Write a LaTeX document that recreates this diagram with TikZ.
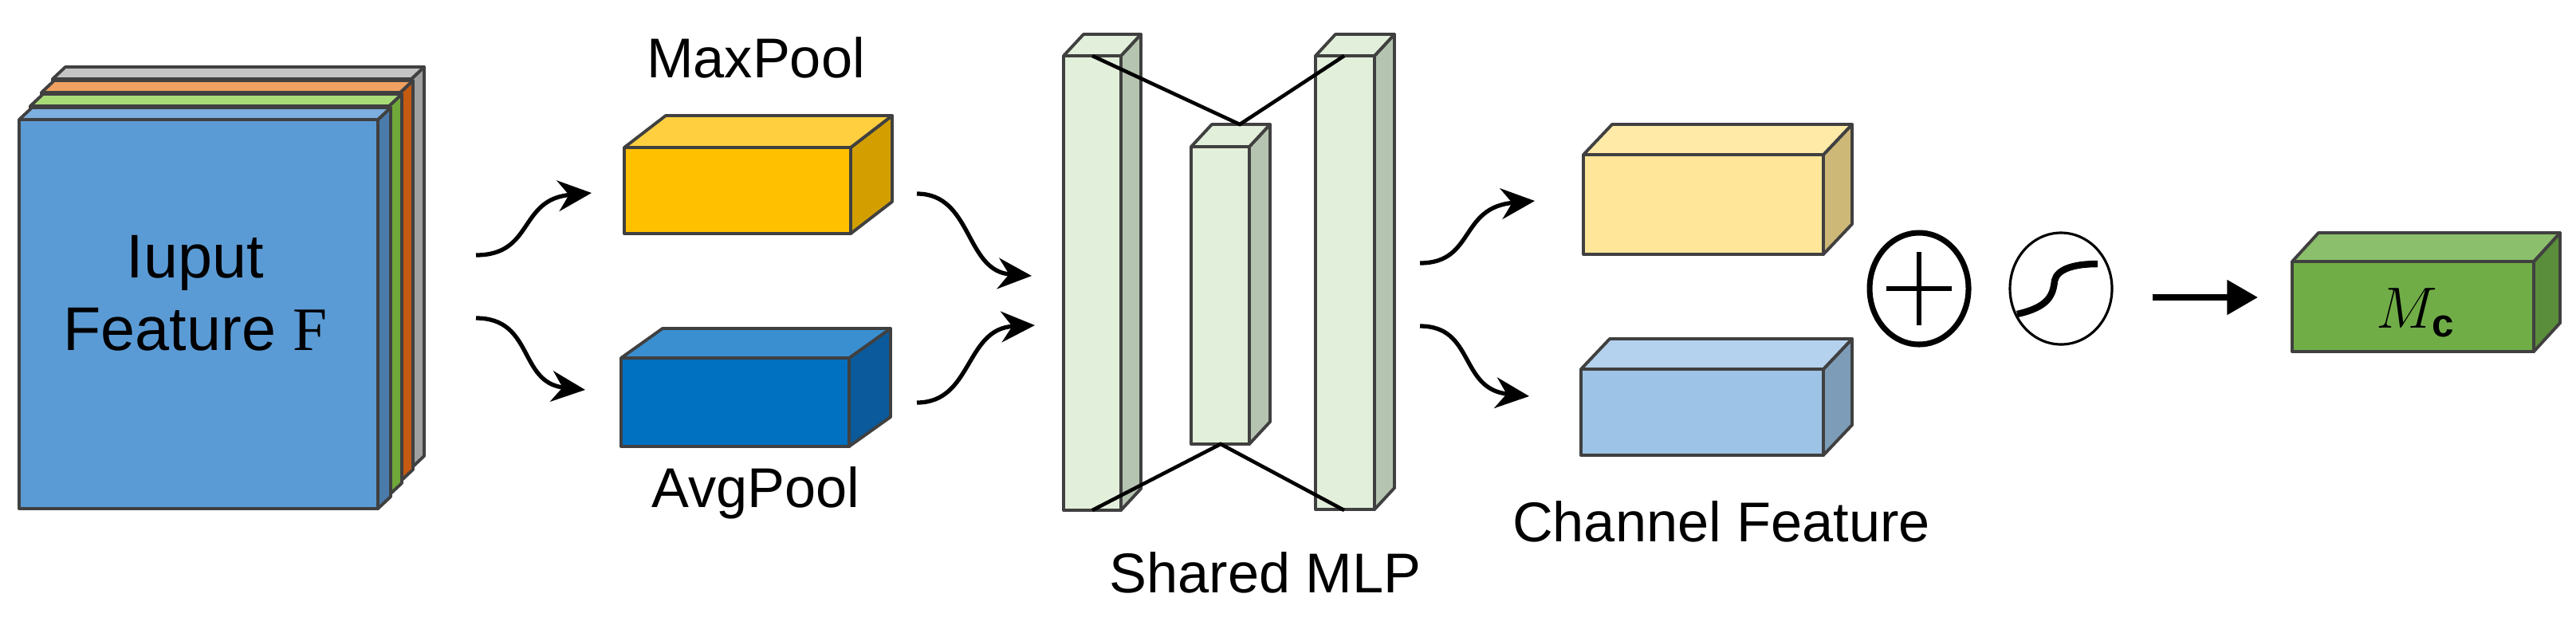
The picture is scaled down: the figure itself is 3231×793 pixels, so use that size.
\documentclass[tikz,border=0pt]{standalone}
\usepackage{fontspec}
\setmainfont{Liberation Sans}
\newfontfamily\serifF{Liberation Serif}
\usetikzlibrary{arrows.meta,calc}
\definecolor{edge}{HTML}{404040}
\newcommand\cub[9]{%
 \filldraw[fill=#7,draw=edge,line width=1.1pt,line join=round] (#1,#2) rectangle (#3,#4);
 \filldraw[fill=#8,draw=edge,line width=1.1pt,line join=round] (#3,#2) -- ++(#5,#6) -- ($(#3,#4)+(#5,#6)$) -- (#3,#4) -- cycle;
 \filldraw[fill=#9,draw=edge,line width=1.1pt,line join=round] (#1,#2) -- ++(#5,#6) -- ($(#3,#2)+(#5,#6)$) -- (#3,#2) -- cycle;}
\tikzset{arr/.style={line width=1.5pt,-{Stealth[length=12pt,width=11pt]}},
 lbl/.style={font=\fontsize{20}{24}\selectfont}}
\definecolor{g1}{HTML}{B4B4B4}\definecolor{g2}{HTML}{A0A0A0}\definecolor{g3}{HTML}{C4C4C4}
\definecolor{o1}{HTML}{E9863A}\definecolor{o2}{HTML}{C55A11}\definecolor{o3}{HTML}{F0A060}
\definecolor{n1}{HTML}{92D050}\definecolor{n2}{HTML}{70A83A}\definecolor{n3}{HTML}{A9DA78}
\definecolor{b1}{HTML}{5B9BD5}\definecolor{b2}{HTML}{4A7BAA}\definecolor{b3}{HTML}{7DAFE0}
\definecolor{y1}{HTML}{FFC000}\definecolor{y2}{HTML}{D39F00}\definecolor{y3}{HTML}{FFCF40}
\definecolor{a1}{HTML}{0070C0}\definecolor{a2}{HTML}{0A5A9C}\definecolor{a3}{HTML}{3A8FD0}
\begin{document}
\begin{tikzpicture}[x=0.01cm,y=-0.01cm]
\useasboundingbox (0,0) rectangle (3231,793);
% input feature layers
\cub{66}{99}{516}{587}{16}{-15}{g1}{g2}{g3}
\cub{52}{116}{502}{604}{16}{-15}{o1}{o2}{o3}
\cub{38}{133}{488}{621}{16}{-15}{n1}{n2}{n3}
\cub{24}{150}{474}{638}{16}{-15}{b1}{b2}{b3}
\node[font=\fontsize{22}{26}\selectfont,align=center] (inp) at (245,368) {Iuput\\Feature {\serifF F}};
% pools
\cub{783}{185}{1067}{293}{52}{-40}{y1}{y2}{y3}
\cub{779}{449}{1065}{560}{52}{-37}{a1}{a2}{a3}
\node[lbl] (mp) at (948,72) {MaxPool};
\node[lbl] (ap) at (948,618) {AvgPool};
\coordinate (a1s) at (597,320); \coordinate (a1e) at (742,242);
\coordinate (a2s) at (597,399); \coordinate (a2e) at (734,489);
\draw[arr] (a1s) .. controls (670,320) and (650,250) .. (a1e);
\draw[arr] (a2s) .. controls (670,399) and (650,480) .. (a2e);
\coordinate (b1s) at (1150,243); \coordinate (b1e) at (1294,346);
\coordinate (b2s) at (1150,505); \coordinate (b2e) at (1298,408);
\draw[arr] (b1s) .. controls (1220,243) and (1210,340) .. (b1e);
\draw[arr] (b2s) .. controls (1220,505) and (1210,412) .. (b2e);
% MLP
\definecolor{mf}{HTML}{E2EFDA}\definecolor{ms}{HTML}{B5C4B0}
\cub{1334}{70}{1406}{640}{25}{-27}{mf}{ms}{mf}
\cub{1494}{184}{1567}{557}{26}{-28}{mf}{ms}{mf}
\cub{1650}{70}{1724}{639}{25}{-27}{mf}{ms}{mf}
\coordinate (l1) at (1370,70); \coordinate (m1) at (1555,156); \coordinate (r1) at (1686,70);
\coordinate (l2) at (1370,640); \coordinate (m2) at (1531,557); \coordinate (r2) at (1686,640);
\draw[line width=1.3pt] (l1) -- (m1) -- (r1);
\draw[line width=1.3pt] (l2) -- (m2) -- (r2);
\node[lbl] (smlp) at (1587,718) {Shared MLP};
\coordinate (c1s) at (1781,330); \coordinate (c1e) at (1925,252);
\coordinate (c2s) at (1781,409); \coordinate (c2e) at (1918,497);
\draw[arr] (c1s) .. controls (1850,330) and (1830,260) .. (c1e);
\draw[arr] (c2s) .. controls (1850,409) and (1830,488) .. (c2e);
% channel features
\definecolor{ly}{HTML}{FFE699}\definecolor{lys}{HTML}{CDB878}\definecolor{lyt}{HTML}{FFEAA8}
\definecolor{lb}{HTML}{9DC3E6}\definecolor{lbs}{HTML}{7D9CB8}\definecolor{lbt}{HTML}{B4D2EE}
\cub{1986}{194}{2287}{319}{36}{-38}{ly}{lys}{lyt}
\cub{1983}{463}{2287}{571}{36}{-38}{lb}{lbs}{lbt}
\node[lbl] (cf) at (2159,654) {Channel Feature};
% plus and sigmoid
\draw[line width=2pt] (2407,362) ellipse [x radius=62,y radius=70];
\node (plus) at (2407,362) {};
\draw[line width=1.8pt] (2366,362) -- (2448,362) (2407,316) -- (2407,408);
\draw[line width=0.9pt] (2585,362) ellipse [x radius=64,y radius=70];
\node (sig) at (2585,362) {};
\draw[line width=2.4pt] (2530,394) .. controls (2570,385) and (2575,370) .. (2577,352) .. controls (2580,338) and (2600,331) .. (2631,331);
\coordinate (d1) at (2700,373); \coordinate (d2) at (2832,373);
\draw[line width=2.2pt,-{Triangle[length=11pt,width=12pt]}] (d1) -- (d2);
% output
\definecolor{gf}{HTML}{70AD47}\definecolor{gs}{HTML}{5A8E3A}\definecolor{gt}{HTML}{8CBF6C}
\cub{2875}{328}{3178}{441}{33}{-36}{gf}{gs}{gt}
\node[font=\fontsize{20}{24}\selectfont] (mc) at (3030,392) {$M_{\mathbf{c}}$};
\end{tikzpicture}
\end{document}
